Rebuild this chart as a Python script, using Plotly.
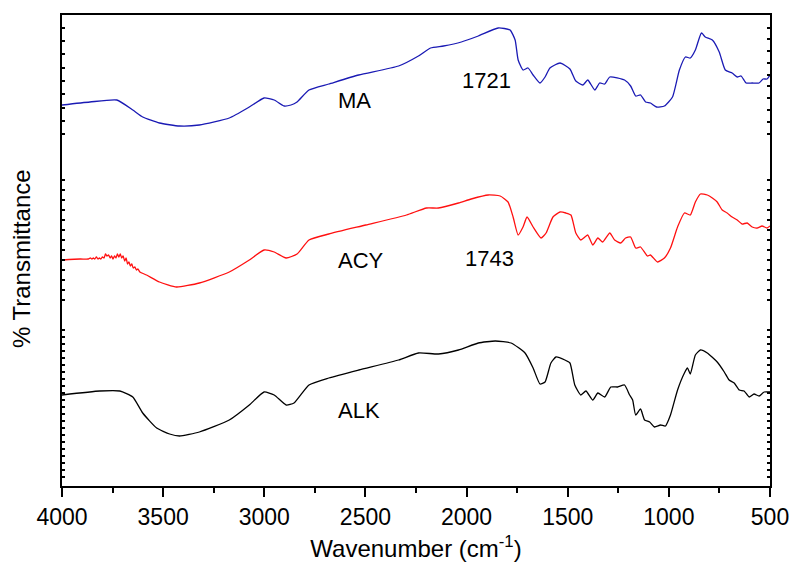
import plotly.graph_objects as go

# ---------------- data ----------------
ma_wn = [4000, 3862, 3729, 3650, 3601, 3518, 3419, 3321, 3173, 3074, 3001, 2951, 2902, 2868, 2838,
         2779, 2681, 2533, 2336, 2238, 2178, 2114, 2026, 1942, 1844, 1785, 1760, 1745, 1721, 1696,
         1671, 1637, 1612, 1588, 1538, 1489, 1460, 1425, 1401, 1366, 1342, 1317, 1292, 1219, 1189,
         1164, 1140, 1115, 1091, 1061, 1022, 982, 948, 918, 894, 869, 839, 820, 785, 751,
         721, 687, 662, 643, 618, 588, 554, 534, 515, 500]
ma_t = [395, 398, 400, 390, 383, 377, 374, 375, 382, 393, 402, 400, 394, 395, 398,
        410, 416, 425, 434, 444, 452, 454, 458, 464, 472, 470, 460, 440, 430, 432,
        425, 417, 423, 432, 437, 431, 419, 415, 420, 410, 417, 416, 423, 420, 414,
        404, 405, 398, 397, 393, 394, 403, 430, 443, 442, 450, 467, 463, 460, 448,
        430, 427, 423, 424, 417, 417, 417, 421, 421, 425]

acy_wn = [4000, 3911, 3870, 3860, 3852, 3845, 3838, 3830, 3822, 3815, 3808, 3800, 3792, 3785,
          3778, 3770, 3762, 3755, 3748, 3740, 3733, 3726, 3719, 3712, 3705, 3698, 3690, 3683,
          3676, 3669, 3662, 3655, 3648, 3640, 3632, 3625, 3615, 3582, 3518, 3434, 3321, 3173,
          3074, 3001, 2951, 2892, 2838, 2779, 2681, 2498, 2297, 2198, 2139, 2040, 1977, 1893,
          1834, 1795, 1770, 1745, 1721, 1701, 1671, 1632, 1607, 1573, 1538, 1509, 1484, 1460,
          1435, 1415, 1401, 1376, 1351, 1327, 1292, 1268, 1238, 1214, 1189, 1164, 1140, 1106,
          1091, 1056, 1022, 992, 957, 923, 894, 869, 844, 810, 785, 761, 736, 712, 687, 662,
          638, 613, 588, 564, 539, 515, 500]
acy_t = [240, 241, 241, 242, 241, 242, 241, 243, 241, 242, 241, 243, 242, 246,
         244, 245, 242, 244, 241, 244, 242, 246, 243, 246, 242, 244, 239, 242,
         236, 238, 234, 236, 232, 233, 230, 231, 228, 225, 218, 213, 217, 228,
         240, 250, 248, 242, 246, 260, 266, 275, 285, 292, 292, 297, 301, 305,
         304, 298, 283, 265, 273, 283, 273, 262, 267, 283, 288, 287, 285, 267,
         260, 263, 265, 255, 262, 258, 267, 260, 257, 262, 263, 252, 253, 244,
         245, 238, 242, 252, 273, 287, 285, 298, 306, 305, 302, 298, 290, 287, 283, 280,
         276, 277, 273, 272, 274, 272, 274]

alk_wn = [4000, 3813, 3714, 3650, 3601, 3532, 3468, 3419, 3321, 3173, 3074, 3001, 2951, 2892,
          2853, 2779, 2681, 2533, 2336, 2238, 2139, 2040, 1942, 1858, 1780, 1711, 1671, 1637,
          1612, 1583, 1558, 1514, 1489, 1465, 1435, 1410, 1376, 1351, 1317, 1287, 1253, 1219,
          1194, 1179, 1164, 1140, 1120, 1095, 1071, 1041, 1017, 992, 957, 923, 908, 894,
          869, 844, 810, 761, 726, 702, 677, 652, 628, 603, 579, 554, 529, 500]
alk_t = [105, 109, 109, 103, 87, 72, 66, 64, 68, 80, 95, 108, 105, 95,
         97, 115, 122, 130, 140, 147, 146, 150, 157, 159, 157, 147, 132, 116,
         118, 137, 143, 140, 137, 115, 105, 109, 100, 107, 103, 113, 113, 115,
         105, 100, 85, 91, 80, 78, 73, 75, 74, 85, 110, 127, 132, 126,
         145, 150, 147, 138, 128, 120, 117, 110, 109, 103, 106, 104, 108, 108]

x_ticks = [4000, 3500, 3000, 2500, 2000, 1500, 1000, 500]

labels = ["MA", "1721", "ACY", "1743", "ALK"]
label_wn = [2553, 1903, 2523, 1888, 2533]
label_t = [400, 420, 240, 242, 90]

# ---------------- figure ----------------
FONT = "Liberation Sans, Arial, sans-serif"
fig = go.Figure()
line_common = dict(width=1.3, shape="spline", smoothing=0.5)
fig.add_trace(go.Scatter(x=ma_wn, y=ma_t, mode="lines", line=dict(color="#1a1ab4", **line_common), showlegend=False))
fig.add_trace(go.Scatter(x=acy_wn, y=acy_t, mode="lines", line=dict(color="#ff1010", **line_common), showlegend=False))
fig.add_trace(go.Scatter(x=alk_wn, y=alk_t, mode="lines", line=dict(color="#000000", **line_common), showlegend=False))

for txt, xv, yv in zip(labels, label_wn, label_t):
    fig.add_annotation(x=xv, y=yv, text=txt, showarrow=False,
                       font=dict(family=FONT, size=22, color="black"))

left_ticks = [472, 459, 446, 432, 419, 406, 392, 379, 366,
              320, 310, 300, 290, 280, 270, 260, 250, 240, 230, 220, 210, 200,
              170, 163, 156, 149, 142, 135, 128, 121, 114, 107, 100, 93, 86, 79, 72, 65, 58, 51, 44, 37, 30, 23]
right_ticks = [472, 461, 449, 437, 425, 414, 402, 390, 378, 366,
               320, 310, 300, 290, 280, 270, 260, 250, 240, 230, 220, 210, 200,
               170, 163, 156, 149, 142, 135, 128, 121, 114, 107, 100, 93, 86, 79, 72, 65, 58, 51, 44, 37, 30, 23]

fig.update_layout(
    width=801, height=582,
    margin=dict(l=62, r=28, t=15, b=96),
    paper_bgcolor="white", plot_bgcolor="white",
    font=dict(family=FONT, color="black"),
    xaxis=dict(
        range=[4000, 500], tickvals=x_ticks, ticks="outside", ticklen=9, tickwidth=1.5,
        tickcolor="black", showline=True, linewidth=2, linecolor="black", mirror=True,
        showgrid=False, zeroline=False, tickfont=dict(size=23, family=FONT),
        minor=dict(dtick=250, ticks="outside", ticklen=5, tickwidth=1.5, tickcolor="black"),
        title=dict(text="Wavenumber (cm<sup>-1</sup>)", font=dict(size=24, family=FONT), standoff=12),
    ),
    yaxis=dict(
        range=[14, 485], tickvals=left_ticks, showticklabels=False, ticks="inside", ticklen=3,
        tickwidth=1.5, tickcolor="black", showline=True, linewidth=2, linecolor="black",
        showgrid=False, zeroline=False,
    ),
    yaxis2=dict(
        range=[14, 485], overlaying="y", side="right", tickvals=right_ticks, showticklabels=False,
        ticks="inside", ticklen=3, tickwidth=1.5, tickcolor="black", showline=True, linewidth=2,
        linecolor="black", showgrid=False, zeroline=False,
    ),
)
# invisible trace to activate the right axis
fig.add_trace(go.Scatter(x=[4000], y=[14], yaxis="y2", mode="markers", marker=dict(opacity=0), showlegend=False, hoverinfo="skip"))

fig.add_annotation(text="% Transmittance", xref="paper", yref="paper", x=-0.0563, y=0.482,
                   xanchor="center", yanchor="middle",
                   textangle=-90, showarrow=False, font=dict(size=24, family=FONT, color="black"))

fig.write_html("out.html")
